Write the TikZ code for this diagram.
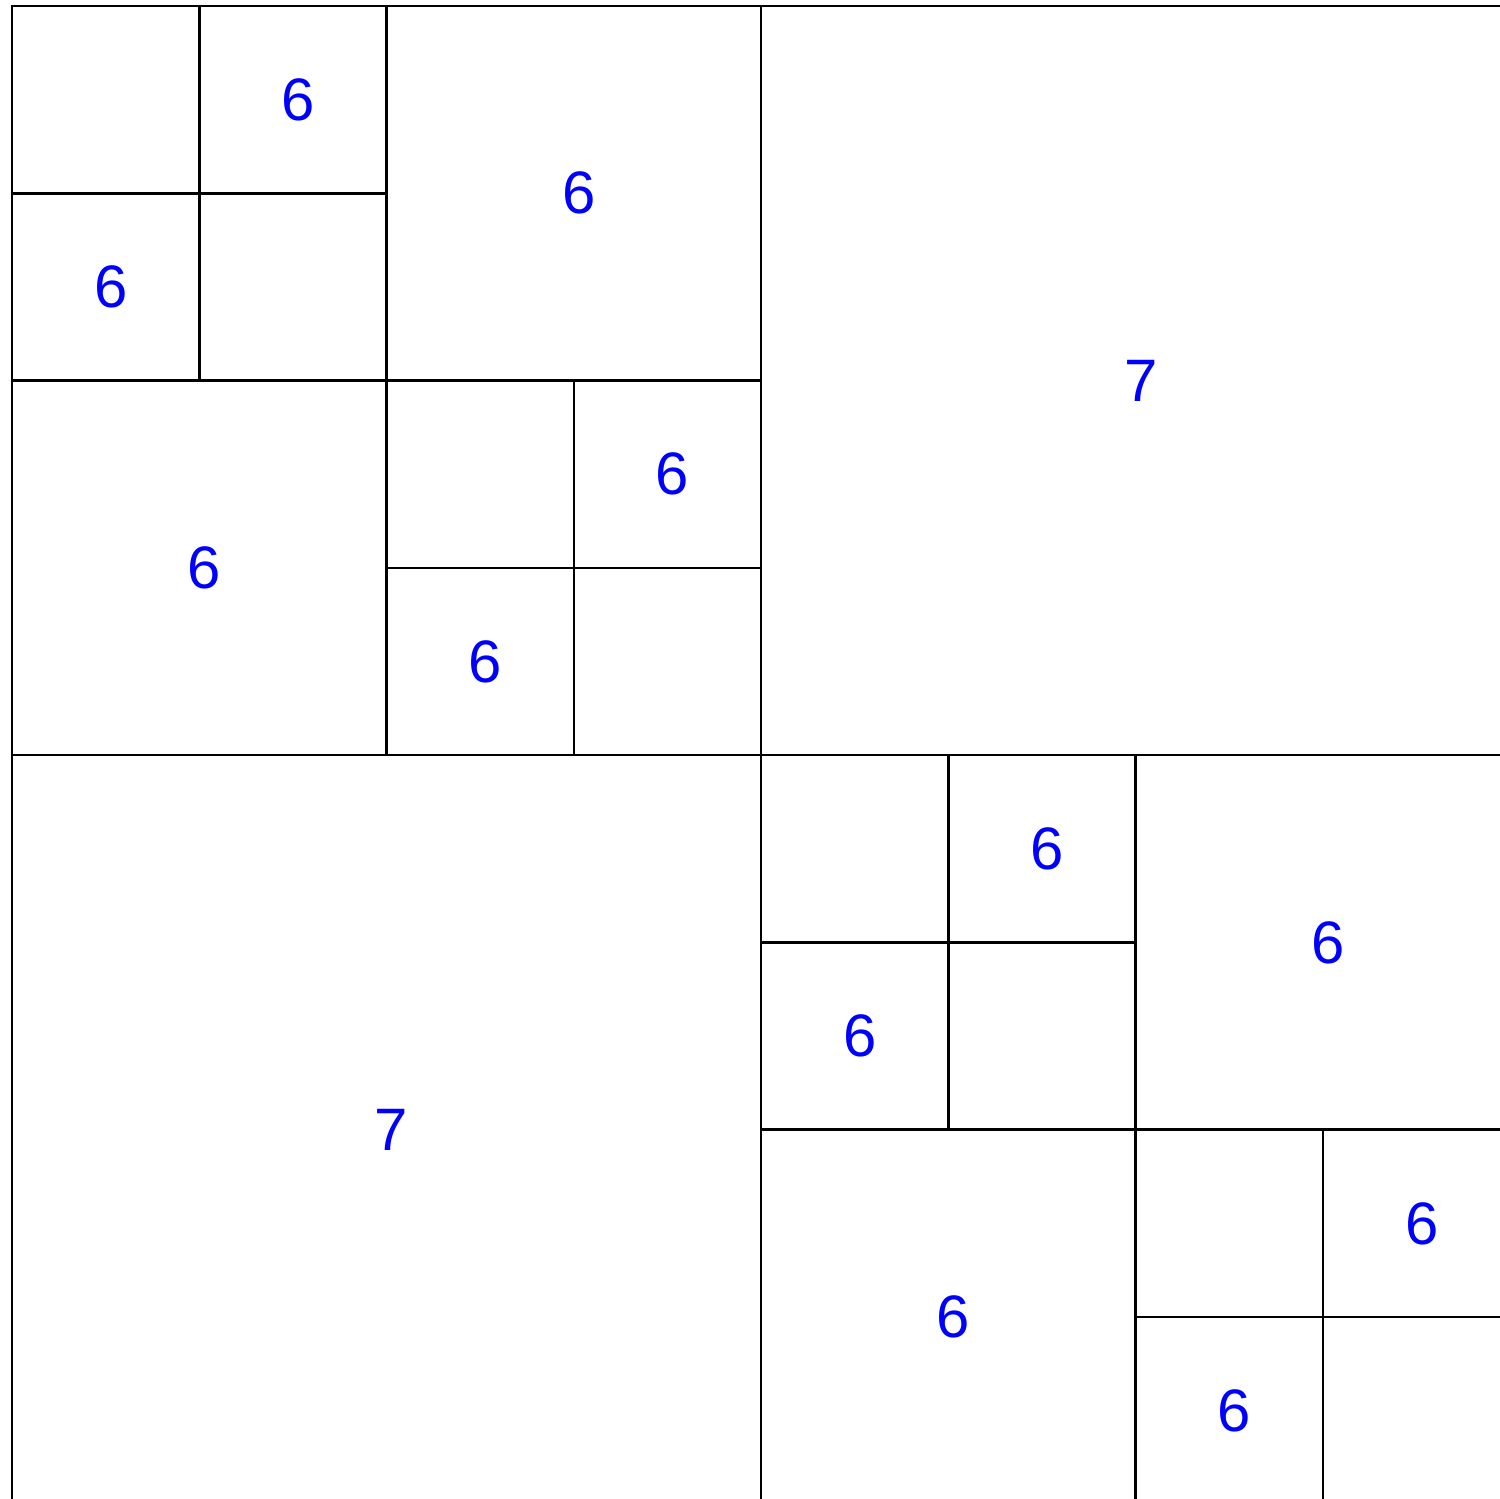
\documentclass[tikz,border=0pt]{standalone}
\usepackage{fontspec}
\setmainfont{Liberation Sans}
\begin{document}
\begin{tikzpicture}[scale=1.0,
    cell/.style={draw=black, line width=0.4pt},
    count/.style={text=blue, font=\fontsize{9.1}{11}\selectfont, inner sep=0pt,
        xshift=0.027cm}]
    \useasboundingbox (-0.064, 0.029) rectangle (7.945, 8.032);

    % Outer square and halves
    \draw[cell] (0, 0) rectangle (8, 8);
    \draw[cell] (4, 0) -- (4, 8);
    \draw[cell] (0, 4) -- (8, 4);

    % Undivided quadrants
    \node[count] (big-tr) at (6, 6) {7};
    \node[count] (big-bl) at (2, 2) {7};

    % Subdivided quadrants (top left and bottom right)
    \foreach \qx/\qy/\q in {0/4/a, 4/0/b} {
        \begin{scope}[shift={(\qx, \qy)}]
            \draw[cell] (2, 0) -- (2, 4);
            \draw[cell] (0, 2) -- (4, 2);
            % Finer cells
            \draw[cell] (1, 2) -- (1, 4);
            \draw[cell] (0, 3) -- (2, 3);
            \draw[cell] (3, 0) -- (3, 2);
            \draw[cell] (2, 1) -- (4, 1);
            % Labels
            \node[count] (\q-tl-ne) at (1.5, 3.5) {6};
            \node[count] (\q-tl-sw) at (0.5, 2.5) {6};
            \node[count] (\q-tr) at (3, 3) {6};
            \node[count] (\q-bl) at (1, 1) {6};
            \node[count] (\q-br-ne) at (3.5, 1.5) {6};
            \node[count] (\q-br-sw) at (2.5, 0.5) {6};
        \end{scope}
    }
\end{tikzpicture}
\end{document}
